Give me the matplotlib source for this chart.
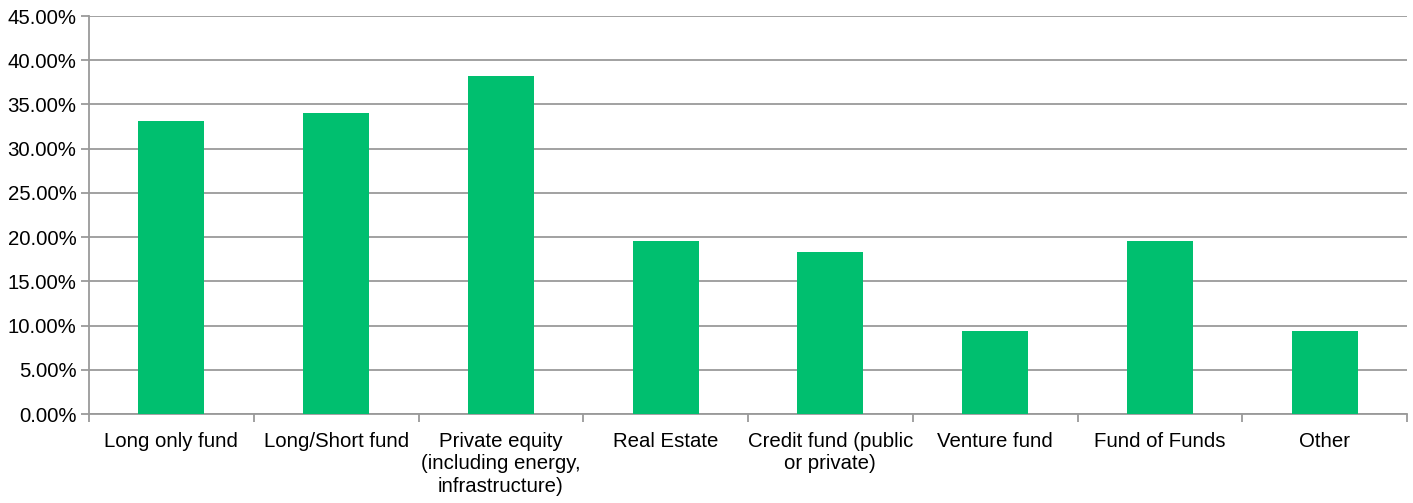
import matplotlib.pyplot as plt
import numpy as np
from matplotlib.ticker import FuncFormatter, FixedLocator

plt.rcParams['font.family'] = ['Liberation Sans', 'DejaVu Sans']

categories = ["Long only fund", "Long/Short fund",
              "Private equity\n(including energy,\ninfrastructure)",
              "Real Estate", "Credit fund (public\nor private)",
              "Venture fund", "Fund of Funds", "Other"]
shares = [33.1, 34.0, 38.2, 19.6, 18.3, 9.35, 19.6, 9.35]

grid_gray = "#9a9a9a"

fig = plt.figure(figsize=(14.13, 5.03), dpi=100)
ax = fig.add_axes([89/1413, 1 - 414/503, (1407 - 89)/1413, (414 - 16)/503])

x = np.arange(len(categories))
ax.bar(x, shares, width=0.4, color="#00bf6f", zorder=3)

ax.set_xlim(-0.5, len(categories) - 0.5)
ax.set_ylim(0, 45)
ax.set_yticks(np.arange(0, 46, 5))
ax.yaxis.set_major_formatter(FuncFormatter(lambda v, _: f"{v:.2f}%"))
ax.grid(axis="y", color=grid_gray, linewidth=1.3, zorder=0)

# category labels at centres, tick marks between categories
ax.set_xticks(x)
ax.set_xticklabels(categories, fontsize=14.7, linespacing=1.22)
ax.tick_params(axis="x", length=0, pad=13)
ax.xaxis.set_minor_locator(FixedLocator(np.arange(-0.5, len(categories), 1)))
ax.tick_params(axis="x", which="minor", length=6, color=grid_gray, width=1.3)
ax.tick_params(axis="y", length=6, color=grid_gray, width=1.3, labelsize=14.7, pad=3)

for side in ["top", "right"]:
    ax.spines[side].set_visible(False)
for side in ["left", "bottom"]:
    ax.spines[side].set_color(grid_gray)
    ax.spines[side].set_linewidth(1.3)

fig.savefig("out.png", dpi=100)
